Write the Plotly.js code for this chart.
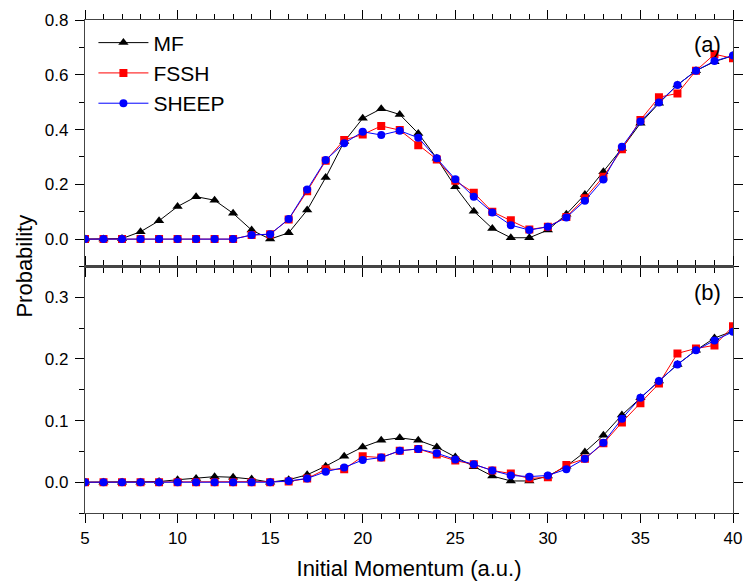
<!DOCTYPE html>
<html>
<head>
<meta charset="utf-8">
<script src="https://cdn.plot.ly/plotly-3.0.1.min.js"></script>
<style>html,body{margin:0;padding:0;background:#fff;}#chart{width:744px;height:583px;}</style>
</head>
<body>
<div id="chart"></div>
<script>
const momentum = [5,6,7,8,9,10,11,12,13,14,15,16,17,18,19,20,21,22,23,24,25,26,27,28,29,30,31,32,33,34,35,36,37,38,39,40];

// Panel (a)
const mfA    = [0,0,0.002,0.027,0.067,0.119,0.155,0.142,0.094,0.033,0.0,0.023,0.106,0.225,0.356,0.441,0.476,0.455,0.386,0.295,0.191,0.102,0.039,0.005,0.005,0.033,0.091,0.163,0.246,0.331,0.423,0.496,0.563,0.615,0.648,0.670];
const fsshA  = [0,0,0,0,0,0,0,0,0,0.015,0.018,0.072,0.175,0.286,0.362,0.382,0.413,0.398,0.343,0.291,0.213,0.169,0.100,0.069,0.035,0.045,0.081,0.149,0.228,0.328,0.435,0.518,0.532,0.615,0.675,0.660];
const sheepA = [0,0,0,0,0,0,0,0,0,0.015,0.018,0.073,0.181,0.289,0.350,0.392,0.380,0.396,0.370,0.295,0.219,0.155,0.097,0.051,0.033,0.045,0.079,0.140,0.218,0.337,0.429,0.499,0.563,0.615,0.650,0.670];

// Panel (b)
const mfB    = [0,0,0,0,0.001,0.004,0.006,0.009,0.008,0.005,0.0,0.004,0.012,0.026,0.042,0.057,0.068,0.072,0.068,0.057,0.041,0.025,0.010,0.002,0.002,0.010,0.026,0.049,0.076,0.109,0.137,0.164,0.191,0.214,0.234,0.245];
const fsshB  = [0,0,0,0,0,0,0,0,0,0,0,0.001,0.006,0.021,0.021,0.042,0.040,0.051,0.054,0.045,0.035,0.029,0.019,0.014,0.006,0.008,0.028,0.038,0.063,0.097,0.128,0.160,0.209,0.217,0.222,0.253];
const sheepB = [0,0,0,0,0,0,0,0,0,0,0,0.002,0.006,0.017,0.024,0.036,0.040,0.051,0.054,0.047,0.037,0.029,0.019,0.011,0.009,0.011,0.021,0.038,0.064,0.103,0.137,0.164,0.191,0.214,0.230,0.244];

const names = ['MF','FSSH','SHEEP'];
const colors = ['#000000','#ff0000','#0000ff'];
const symbols = ['triangle-up','square','circle'];
const sizes = [9,8,8];

const FONT = 'Liberation Sans, Arial, sans-serif';
const traces = [];
const setsA = [mfA, fsshA, sheepA];
const setsB = [mfB, fsshB, sheepB];
for (let i = 0; i < 3; i++) {
  traces.push({x: momentum, y: setsA[i], xaxis:'x', yaxis:'y', name: names[i], mode:'lines+markers',
    line:{color:colors[i], width:1}, marker:{symbol:symbols[i], size:sizes[i], color:colors[i]}, showlegend:true});
}
for (let i = 0; i < 3; i++) {
  traces.push({x: momentum, y: setsB[i], xaxis:'x2', yaxis:'y2', name: names[i], mode:'lines+markers',
    line:{color:colors[i], width:1}, marker:{symbol:symbols[i], size:sizes[i], color:colors[i]}, showlegend:false});
}

const axCommon = {showline:true, linecolor:'#444', linewidth:1.2, ticks:'outside', tickcolor:'#000', tickwidth:1,
  ticklen:9, mirror:'ticks', showgrid:false, zeroline:false, tickfont:{family:FONT, size:17, color:'#000'}};

const layout = {
  width:744, height:583,
  margin:{l:85, r:11, t:20, b:70},
  paper_bgcolor:'#fff', plot_bgcolor:'#fff',
  font:{family:FONT, color:'#000'},
  xaxis: Object.assign({}, axCommon, {anchor:'y', range:[5,40], dtick:5, showticklabels:false, matches:'x2',
    minor:{dtick:1, ticks:'outside', ticklen:5, tickcolor:'#000'}}),
  xaxis2: Object.assign({}, axCommon, {anchor:'y2', range:[5,40], dtick:5,
    minor:{dtick:1, ticks:'outside', ticklen:5, tickcolor:'#000'},
    title:{text:'Initial Momentum (a.u.)', font:{family:FONT, size:22, color:'#000'}, standoff:14}}),
  yaxis: Object.assign({}, axCommon, {anchor:'x', domain:[0.5,1], range:[-0.1,0.8], dtick:0.2, tick0:0, tickformat:'.1f',
    ticklabelstandoff:3, minor:{dtick:0.1, ticks:'outside', ticklen:5, tickcolor:'#000'}}),
  yaxis2: Object.assign({}, axCommon, {anchor:'x2', domain:[0,0.5], range:[-0.05,0.35], dtick:0.1, tick0:0, tickformat:'.1f',
    ticklabelstandoff:3, minor:{dtick:0.05, ticks:'outside', ticklen:5, tickcolor:'#000'}}),
  legend:{x:0.013, y:0.995, xanchor:'left', yanchor:'top', bgcolor:'rgba(0,0,0,0)', borderwidth:0,
    font:{family:FONT, size:21, color:'#000'}, itemwidth:50, tracegroupgap:0},
  annotations:[
    {text:'(a)', xref:'paper', yref:'paper', x:0.961, y:0.951, xanchor:'center', yanchor:'middle', showarrow:false, font:{family:FONT, size:22, color:'#000'}},
    {text:'(b)', xref:'paper', yref:'paper', x:0.961, y:0.448, xanchor:'center', yanchor:'middle', showarrow:false, font:{family:FONT, size:22, color:'#000'}},
    {text:'Probability', xref:'paper', yref:'paper', x:-0.094, y:0.5, xanchor:'center', yanchor:'middle', textangle:-90, showarrow:false,
      font:{family:FONT, size:22, color:'#000'}}
  ]
};

Plotly.newPlot('chart', traces, layout, {displayModeBar:false, staticPlot:true});
</script>
</body>
</html>
